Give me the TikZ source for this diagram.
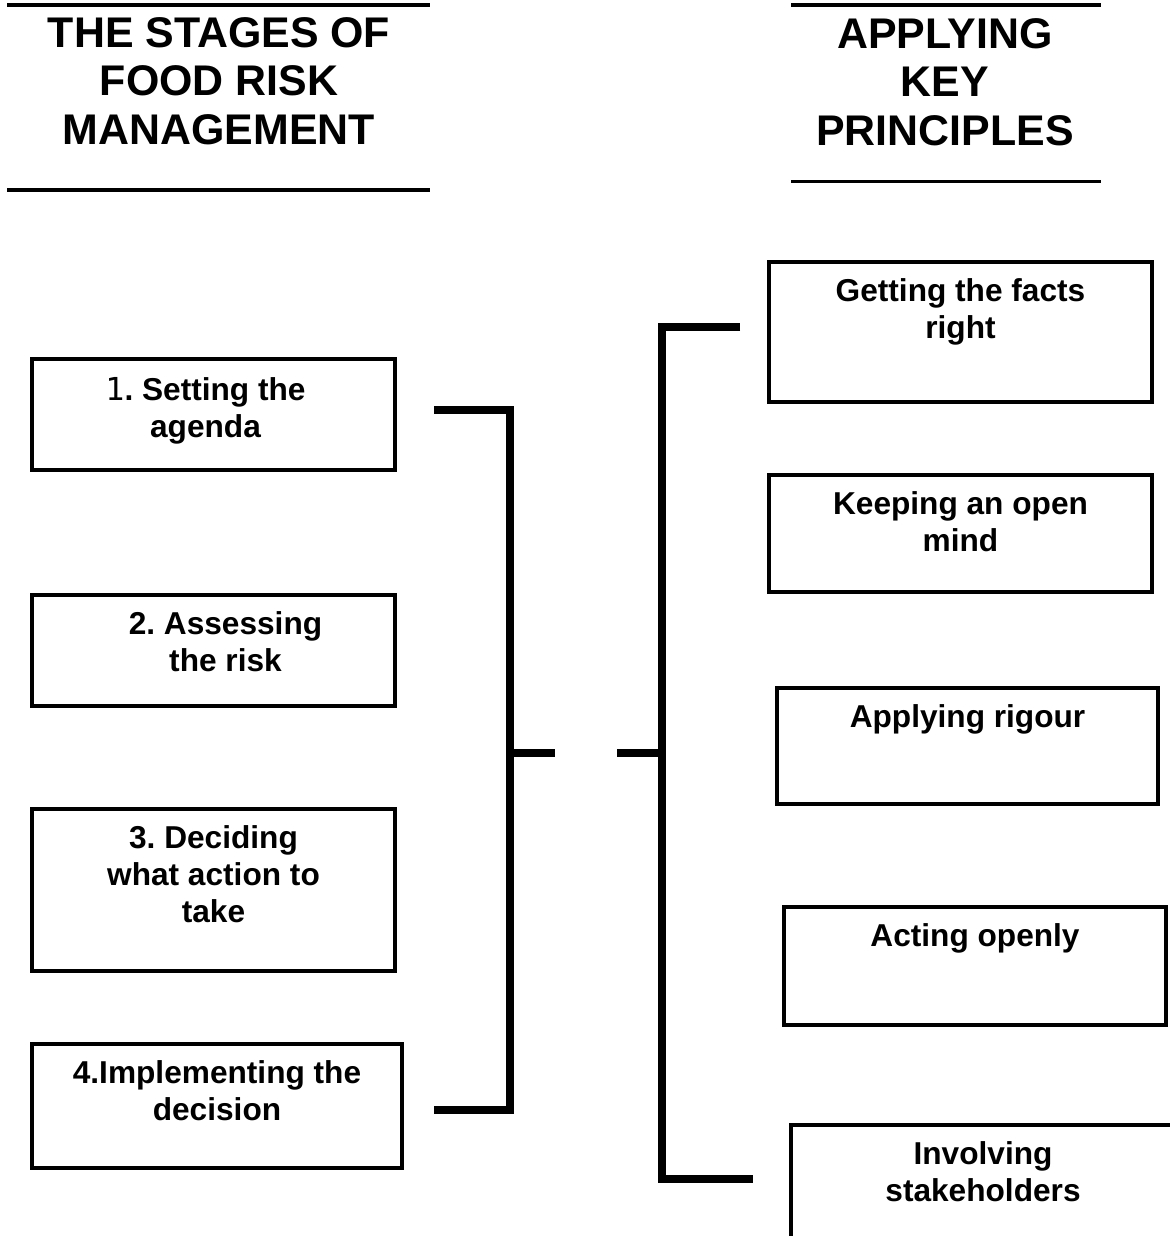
\documentclass[tikz,border=0pt]{standalone}
\usepackage{fontspec}
\setmainfont{Liberation Sans}
\setmonofont{DejaVu Sans Mono}
\usetikzlibrary{positioning}
\frenchspacing

\begin{document}
\begin{tikzpicture}[
        x=0.025cm, y=-0.025cm,
        node distance=0.45cm,
        heading/.style={
            align=center, inner sep=0pt,
            font=\fontsize{30.5}{34.5}\selectfont\bfseries
        },
        stagebox/.style={
            rectangle, draw=black, line width=2.8pt, inner sep=0pt
        },
        boxtext/.style={
            align=center, inner sep=0pt,
            font=\fontsize{22.5}{26.5}\selectfont\bfseries
        },
        rule/.style={line width=2.3pt},
        brace/.style={line width=5pt}
    ]
    \useasboundingbox (0,0) rectangle (1170,1236);
    \clip (0,0) rectangle (1170,1236);

    % Headings
    \node[heading, anchor=north] (hl) at (219,17) {THE STAGES OF\\FOOD RISK\\MANAGEMENT};
    \node[heading, anchor=north] (hr) at (945,18) {APPLYING\\KEY\\PRINCIPLES};
    \draw[rule] (7,5) -- (430,5);
    \draw[rule] (7,190) -- (430,190);
    \draw[rule] (791,5) -- (1101,5);
    \draw[rule] (791,181.5) -- (1101,181.5);

    % Stages
    \node[stagebox, minimum width=9.075cm, minimum height=2.775cm] (b1) at (213.5,414.5) {};
    \node[stagebox, minimum width=9.075cm, minimum height=2.775cm] (b2) at (213.5,650.5) {};
    \node[stagebox, minimum width=9.075cm, minimum height=4.05cm] (b3) at (213.5,890) {};
    \node[stagebox, minimum width=9.25cm, minimum height=3.1cm] (b4) at (217,1106) {};

    \node[boxtext, below=0.5cm of b1.north, xshift=-0.2cm] (t1) {{\mdseries\ttfamily 1}. Setting the\\agenda};
    \node[boxtext, below=of b2.north, xshift=0.3cm] (t2) {2. Assessing\\the risk};
    \node[boxtext, below=of b3.north] (t3) {3. Deciding\\what action to\\take};
    \node[boxtext, below=of b4.north] (t4) {4.Implementing the\\decision};

    % Principles
    \node[stagebox, minimum width=9.575cm, minimum height=3.5cm] (r1) at (960.5,332) {};
    \node[stagebox, minimum width=9.575cm, minimum height=2.925cm] (r2) at (960.5,533.5) {};
    \node[stagebox, minimum width=9.525cm, minimum height=2.9cm] (r3) at (967.5,746) {};
    \node[stagebox, minimum width=9.55cm, minimum height=2.95cm] (r4) at (975,966) {};
    \node[stagebox, minimum width=9.575cm, minimum height=3.5cm] (r5) at (983,1195) {};

    \node[boxtext, below=of r1.north] (p1) {Getting the facts\\right};
    \node[boxtext, below=of r2.north] (p2) {Keeping an open\\mind};
    \node[boxtext, below=of r3.north] (p3) {Applying rigour};
    \node[boxtext, below=of r4.north] (p4) {Acting openly};
    \node[boxtext, below=of r5.north] (p5) {Involving\\stakeholders};

    % Brackets
    \coordinate (lbt) at (434,410);
    \coordinate (lbb) at (434,1110);
    \coordinate (lbv) at (510,753);
    \coordinate (lbm) at (555,753);
    \coordinate (rbt) at (740,327);
    \coordinate (rbb) at (753,1179);
    \coordinate (rbv) at (662,753);
    \coordinate (rbm) at (617,753);

    \draw[brace] (lbt) -- (lbt -| lbv) -- (lbb -| lbv) -- (lbb);
    \draw[brace] (lbv) -- (lbm);
    \draw[brace] (rbt) -- (rbt -| rbv) -- (rbb -| rbv) -- (rbb);
    \draw[brace] (rbm) -- (rbv);
\end{tikzpicture}
\end{document}
